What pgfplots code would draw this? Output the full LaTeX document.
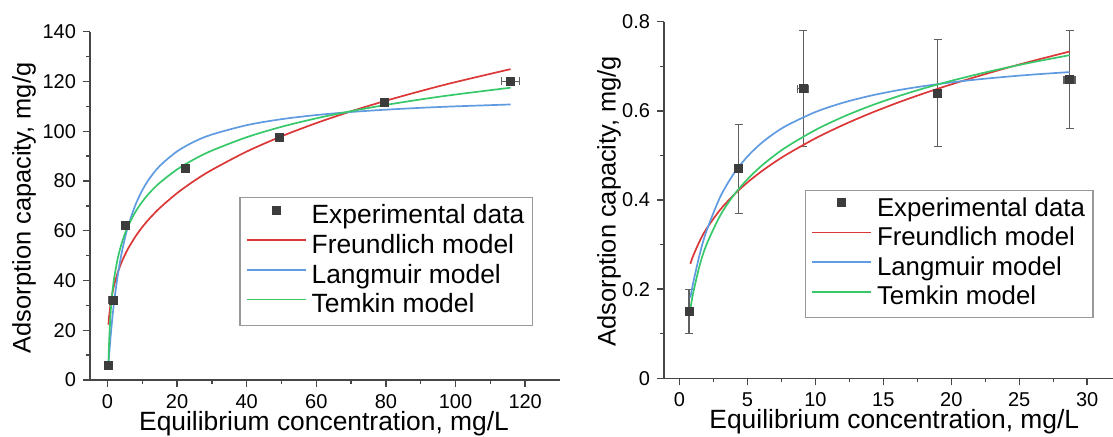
\documentclass[border=0pt]{standalone}
\usepackage{pgfplots}
\pgfplotsset{compat=1.18}
\usepackage{fontspec}
\setmainfont{Liberation Sans}
\definecolor{fr}{RGB}{220,55,55}
\definecolor{la}{RGB}{95,155,225}
\definecolor{te}{RGB}{55,200,105}
\definecolor{mk}{RGB}{60,60,60}
\definecolor{ax}{RGB}{70,70,70}
\definecolor{eb}{RGB}{95,95,95}
\pgfplotsset{
  myaxis/.style={
    scale only axis,
    axis x line*=bottom, axis y line*=left,
    axis line style={draw=ax, line width=0.75pt},
    tick style={draw=ax, line width=0.7pt},
    tick align=outside,
    major tick length=3.5pt, minor tick length=2pt,
    minor tick num=1,
    /pgf/number format/assume math mode=true,
    tick label style={font=\fontsize{10}{12}\selectfont, text=black},
    xlabel style={font=\fontsize{13.2}{15}\selectfont},
    ylabel style={font=\fontsize{12.7}{15}\selectfont},
    legend cell align=left,
    legend style={draw=gray!80, line width=0.6pt, font=\fontsize{13.2}{15}\selectfont,
      anchor=north west, inner xsep=3pt, inner ysep=2.5pt, row sep=0.5pt, column sep=1.5pt,
      nodes={inner sep=1pt, text height=9.5pt, text depth=2.8pt}},
  },
  cur/.style={line width=0.85pt, no marks, smooth,
    legend image code/.code={\draw[##1] (0pt,3.3pt) -- (29.5pt,3.3pt);}},
  exppts/.style={only marks, mark=square*, mark size=2pt, mark options={draw=mk, fill=mk},
    legend image code/.code={\draw[mark repeat=2, mark phase=2, ##1] plot coordinates {(0pt,3.3pt) (14.75pt,3.3pt) (29.5pt,3.3pt)};}},
  ebars/.style={error bars/error bar style={eb, line width=0.6pt},
    error bars/error mark options={rotate=90, eb, mark size=2pt, line width=0.6pt}},
}
\pgfplotstableread{
x y ex
0.3 6 0.3
1.6 32 1.2
5.3 62 0.6
22.5 85 0.6
49.3 97.5 0.6
79.7 111.5 1.0
115.8 120 2.5
}\leftexp
\pgfplotstableread{
x y ex ey
0.7 0.15 0 0.05
4.35 0.47 0.1 0.10
9.1 0.65 0.4 0.13
19.0 0.64 0.3 0.12
28.7 0.67 0.4 0.11
}\rightexp
\pgfplotstableread{
x fr la te
0.3 22.22 6.33 6.00
0.5 25.76 10.18 15.56
1 31.50 18.72 28.54
1.5 35.43 25.97 36.13
2 38.51 32.22 41.51
3 43.32 42.43 49.10
4 47.09 50.41 54.49
5 50.23 56.82 58.67
6 52.96 62.09 62.08
8 57.57 70.22 67.47
10 61.42 76.21 71.64
12 64.75 80.81 75.06
15 69.09 86.00 79.23
20 75.10 91.89 84.62
25 80.12 95.84 88.79
30 84.46 98.66 92.21
40 91.82 102.43 97.59
50 97.95 104.84 101.77
60 103.27 106.50 105.18
70 108.00 107.73 108.07
80 112.26 108.66 110.57
90 116.15 109.40 112.78
100 119.76 110.00 114.75
115.8 124.96 110.75 117.49
}\leftfit
\pgfplotstableread{
x fr la te
0.8 0.2570 0.1808 0.1550
1 0.2743 0.2131 0.1905
1.5 0.3089 0.2798 0.2551
2 0.3360 0.3316 0.3009
3 0.3784 0.4071 0.3654
4 0.4116 0.4593 0.4112
5 0.4394 0.4977 0.4467
6 0.4635 0.5270 0.4758
7 0.4849 0.5502 0.5003
8 0.5042 0.5689 0.5216
10 0.5383 0.5974 0.5571
12 0.5678 0.6180 0.5861
14 0.5940 0.6336 0.6107
16 0.6177 0.6459 0.6319
18 0.6394 0.6557 0.6507
20 0.6594 0.6639 0.6674
22 0.6780 0.6707 0.6826
24 0.6956 0.6764 0.6965
26 0.7121 0.6814 0.7092
28.7 0.7330 0.6870 0.7249
}\rightfit
\begin{document}
\begin{tikzpicture}
\useasboundingbox (0,0) rectangle (556.5pt,218pt);
\begin{axis}[myaxis, at={(45pt,28pt)}, anchor=south west,
  width=235pt, height=174.15pt,
  xmin=-5, xmax=130, ymin=0, ymax=140,
  xtick={0,20,...,120}, ytick={0,20,...,140},
  xlabel={Equilibrium concentration, mg/L},
  ylabel={Adsorption capacity, mg/g},
  xlabel style={at={(axis description cs:0.498,-0.126)}, anchor=center},
  ylabel style={at={(axis description cs:-0.1404,0.494)}, anchor=center},
  legend style={at={(axis description cs:0.3177,0.5246)}},
]
\addplot+[exppts, ebars, error bars/.cd, x dir=both, x explicit]
  table[x=x, y=y, x error=ex] {\leftexp};
\addlegendentry{Experimental data}
\addplot[cur, fr] table[x=x, y=fr] {\leftfit};
\addlegendentry{Freundlich model}
\addplot[cur, la] table[x=x, y=la] {\leftfit};
\addlegendentry{Langmuir model}
\addplot[cur, te] table[x=x, y=te] {\leftfit};
\addlegendentry{Temkin model}
\end{axis}
\begin{axis}[myaxis, at={(332pt,28.85pt)}, anchor=south west,
  width=224.5pt, height=178.3pt,
  xmin=-1.14, xmax=31.9, ymin=0, ymax=0.8,
  xtick={0,5,...,30}, ytick={0,0.2,0.4,0.6,0.8},
  xlabel={Equilibrium concentration, mg/L},
  ylabel={Adsorption capacity, mg/g},
  xlabel style={at={(axis description cs:0.513,-0.1225)}, anchor=center},
  ylabel style={at={(axis description cs:-0.1225,0.497)}, anchor=center},
  legend style={at={(axis description cs:0.3134,0.5292)}, font=\fontsize{12.9}{15}\selectfont},
]
\addplot+[exppts, ebars, error bars/.cd, x dir=both, x explicit, y dir=both, y explicit]
  table[x=x, y=y, x error=ex, y error=ey] {\rightexp};
\addlegendentry{Experimental data}
\addplot[cur, fr] table[x=x, y=fr] {\rightfit};
\addlegendentry{Freundlich model}
\addplot[cur, la] table[x=x, y=la] {\rightfit};
\addlegendentry{Langmuir model}
\addplot[cur, te] table[x=x, y=te] {\rightfit};
\addlegendentry{Temkin model}
\end{axis}
\end{tikzpicture}
\end{document}
